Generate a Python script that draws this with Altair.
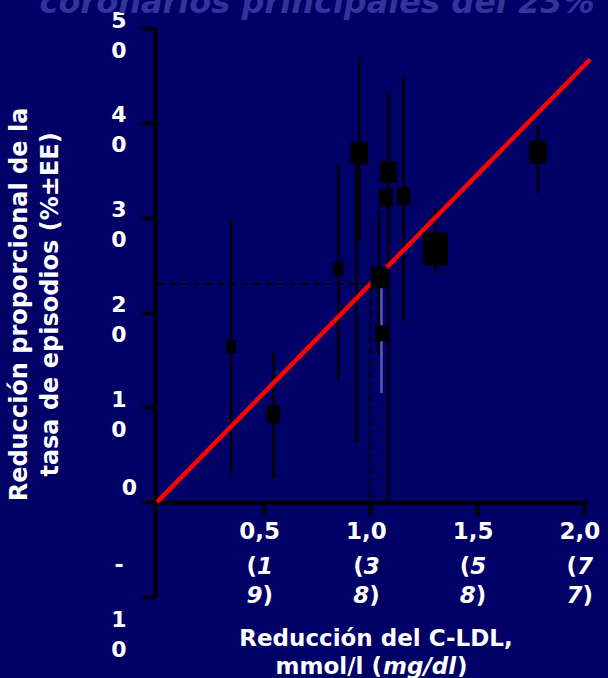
import altair as alt
import pandas as pd

# Trials: LDL-C reduction (mmol/l) vs proportional reduction in event rate (%)
ldl_reduction = [0.347, 0.545, 0.850, 0.948, 0.935, 1.040, 1.084, 1.073, 1.155, 1.052, 1.304, 1.785]
event_reduction = [16.4, 9.25, 24.6, 36.8, 20.9, 23.7, 34.8, 32.1, 32.3, 17.8, 26.7, 36.9]
ci_low = [2.85, 2.5, 12.9, 27.5, 6.3, 15.5, 0.2, 31.3, 19.0, 11.5, 24.05, 32.6]
ci_high = [29.85, 15.85, 35.7, 46.7, 35.5, 30.8, 43.3, 32.9, 44.9, 22.6, 31.0, 39.6]
trial_weight = [15.5, 29.8, 16.3, 47.3, 0.4, 43.3, 43.3, 28.7, 28.7, 23.5, 100.0, 47.3]

# Fitted relation: 23% reduction per 1 mmol/l
fit_x = [0.0, 2.03]
fit_y = [0.0, 46.7]
guide_x = [0.0, 1.0, 1.0]
guide_y = [23.0, 23.0, 0.0]

# Axis ticks and labels
x_tick_values = [0.5, 1.0, 1.5, 2.0]
x_tick_mmol = ["0,5", "1,0", "1,5", "2,0"]
x_tick_mgdl = ["19", "38", "58", "77"]
y_tick_values = [-10, 0, 10, 20, 30, 40, 50]
y_tick_text = ["-10", "0", "10", "20", "30", "40", "50"]

title_text = "coronarios principales del 23%"
y_title = ["Reducción proporcional de la", "tasa de episodios (%±EE)"]
x_title_1 = "Reducción del C-LDL,"
x_title_2a = "mmol/l ("
x_title_2b = "mg/dl"
x_title_2c = ")"

BG = "#000066"
FONT = "DejaVu Sans"
W, H = 430, 569
X_DOMAIN = [0, 2.015]
Y_DOMAIN = [-10, 50]
zero_offset = -(0 - Y_DOMAIN[0]) * H / (Y_DOMAIN[1] - Y_DOMAIN[0])

trials = pd.DataFrame({
    "idx": list(range(len(ldl_reduction))),
    "ldl": ldl_reduction,
    "red": event_reduction,
    "lo": ci_low,
    "hi": ci_high,
    "w": trial_weight,
})
fit = pd.DataFrame({"x": fit_x, "y": fit_y})
guide = pd.DataFrame({"x": guide_x, "y": guide_y, "o": [0, 1, 2]})
ticks = pd.DataFrame({
    "v": x_tick_values,
    "mmol": x_tick_mmol,
    "d1": [s[0] for s in x_tick_mgdl],
    "d2": [s[1] for s in x_tick_mgdl],
})

# the 0 and negative y labels are drawn as text marks; the sign sits apart from the digits
zero_df = pd.DataFrame({"v": [0], "t": [y_tick_text[y_tick_values.index(0)]]})
neg = [(v, s) for v, s in zip(y_tick_values, y_tick_text) if v < 0]
neg_df = pd.DataFrame({
    "v": [v for v, _ in neg],
    "sign": [s[0] for _, s in neg],
    "digits": ["\n".join(s[1:]) for _, s in neg],
})

xs = alt.Scale(domain=X_DOMAIN, nice=False, zero=False)
ys = alt.Scale(domain=Y_DOMAIN, nice=False, zero=False)

# multi-line y labels, one character per line
label_expr = "''"
for v, s in reversed(list(zip(y_tick_values, y_tick_text))):
    if v <= 0:
        continue
    arr = "[" + ",".join("'" + c + "'" for c in s) + "]"
    label_expr = f"datum.value == {v} ? {arr} : ({label_expr})"

x_axis = alt.Axis(
    values=x_tick_values, labels=False, title="", grid=False,
    domainColor="black", domainWidth=4, tickColor="black", tickWidth=4,
    tickSize=13, offset=zero_offset,
)
y_axis = alt.Axis(
    values=y_tick_values, labelExpr=label_expr, grid=False,
    labelFont=FONT, labelFontWeight="bold", labelFontSize=22, labelColor="white",
    labelLineHeight=30, labelOverlap=False, labelBound=False, labelFlush=False,
    labelPadding=16, labelOffset=-8,
    domainColor="black", domainWidth=4, tickColor="black", tickWidth=3.5, tickSize=13,
    offset=2,
    title=y_title, titleFont=FONT, titleFontWeight="bold", titleFontSize=24,
    titleColor="white", titleLineHeight=31, titleAngle=-90, titleAlign="center",
    titleBaseline="bottom", titleX=-124, titleY=276,
)

guide_layer = alt.Chart(guide).mark_line(
    color="black", strokeWidth=2, strokeDash=[7, 5]
).encode(
    x=alt.X("x:Q", scale=xs, axis=x_axis),
    y=alt.Y("y:Q", scale=ys, axis=y_axis),
    order="o:Q",
)

ci_layer = alt.Chart(trials).mark_rule(strokeWidth=2.5).encode(
    x="ldl:Q",
    y="lo:Q",
    y2="hi:Q",
    color=alt.condition(alt.datum.idx == 9, alt.value("#5a5ab4"), alt.value("black")),
)

fit_layer = alt.Chart(fit).mark_line(color="#ff0000", strokeWidth=4.5).encode(
    x="x:Q",
    y="y:Q",
)

box_layer = alt.Chart(trials).mark_point(
    shape="M-0.77,-1L0.77,-1L0.77,1L-0.77,1Z", filled=True, color="black",
    opacity=1, strokeWidth=0,
).encode(
    x="ldl:Q",
    y="red:Q",
    size=alt.Size("w:Q", scale=alt.Scale(domain=[0, 100], range=[0, 1089]), legend=None),
)

def tick_text(field=None, const=None, align="center", dx=0, dy=0, italic=False):
    enc = {
        "x": alt.X("v:Q"),
        "y": alt.YDatum(0),
        "text": alt.Text(f"{field}:N") if field else alt.value(const),
    }
    return alt.Chart(ticks).mark_text(
        align=align, baseline="middle", dx=dx, dy=dy, font=FONT,
        fontWeight="bold", fontSize=23, color="white",
        fontStyle="italic" if italic else "normal",
    ).encode(**enc)

tick_layers = [
    tick_text("mmol", dx=-4, dy=30),
    tick_text(const="(", align="right", dx=-6.75, dy=65),
    tick_text("d1", align="left", dx=-6.75, dy=65, italic=True),
    tick_text("d2", align="right", dx=-1.25, dy=94, italic=True),
    tick_text(const=")", align="left", dx=-1.25, dy=94),
]

zero_layer = alt.Chart(zero_df).mark_text(
    align="right", baseline="bottom", dy=-2, font=FONT, fontWeight="bold",
    fontSize=22, color="white",
).encode(x=alt.value(-20), y="v:Q", text="t:N")

neg_sign_layer = alt.Chart(neg_df).mark_text(
    align="center", baseline="middle", dy=-32, font=FONT, fontWeight="bold",
    fontSize=22, color="white",
).encode(x=alt.value(-38), y="v:Q", text="sign:N")

neg_digits_layer = alt.Chart(neg_df).mark_text(
    align="center", baseline="middle", dy=23, font=FONT, fontWeight="bold",
    fontSize=22, color="white", lineBreak="\n", lineHeight=30,
).encode(x=alt.value(-38), y="v:Q", text="digits:N")

one = pd.DataFrame({"k": [0]})

def label(text, x, y, align="center", italic=False, size=23, color="white", baseline="middle"):
    return alt.Chart(one).mark_text(
        align=align, baseline=baseline, font=FONT, fontWeight="bold", fontSize=size,
        color=color, fontStyle="italic" if italic else "normal",
    ).encode(x=alt.value(x), y=alt.value(y), text=alt.value(text))

text_layers = [
    label(x_title_1, 219, 611),
    label(x_title_2a, 225, 639, align="right"),
    label(x_title_2b, 226, 639, align="left", italic=True),
    label(x_title_2c, 300, 639, align="left"),
    label(title_text, 160, -15, italic=True, size=32, color="#33339c", baseline="alphabetic"),
]

chart = alt.layer(
    guide_layer, ci_layer, fit_layer, box_layer, *tick_layers,
    zero_layer, neg_sign_layer, neg_digits_layer, *text_layers
).properties(
    width=W, height=H,
    autosize=alt.AutoSizeParams(type="none"),
    padding={"left": 157, "top": 28, "right": 21, "bottom": 81},
    background=BG,
).configure_view(stroke=None)

chart.save("out.html", embed_options={"renderer": "svg", "actions": False})
